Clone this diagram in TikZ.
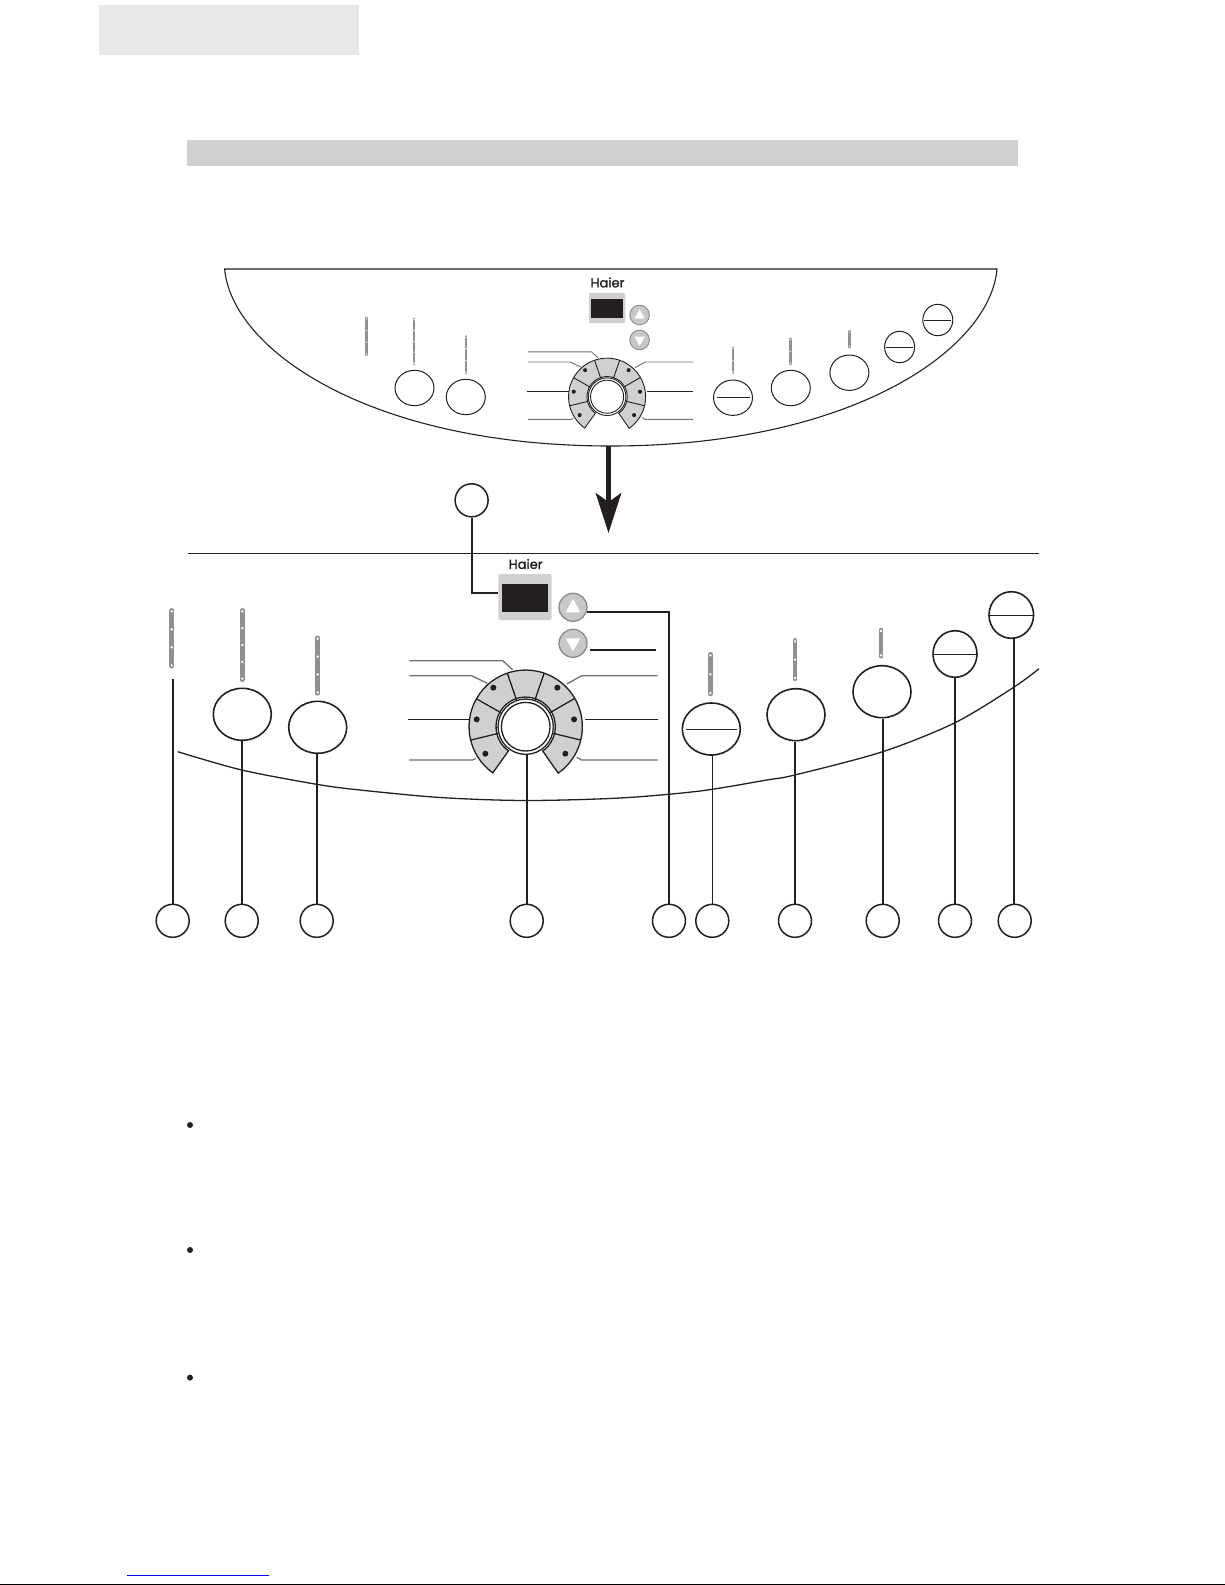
\documentclass[tikz,border=0pt]{standalone}
\usepackage{fontspec}
\newfontfamily\logofont[FakeBold=1.6]{Poppins}
\usetikzlibrary{shapes.geometric}
\definecolor{ink}{HTML}{231F20}
\definecolor{panelgray}{HTML}{D0D0D0}
\definecolor{tabgray}{HTML}{E8E8E8}
\definecolor{leadgray}{HTML}{707070}
\definecolor{bargray}{HTML}{909090}
\definecolor{btngray}{HTML}{C8C8C8}
\definecolor{btnedge}{HTML}{8A8A8A}
\definecolor{linkblue}{HTML}{0000E0}
\tikzset{
  knob/.style={ellipse,draw=ink,fill=white,inner sep=0pt,line width=1.6pt},
  smallknob/.style={ellipse,draw=ink,fill=white,inner sep=0pt,line width=1pt},
  callout/.style={ellipse,draw=ink,fill=white,inner sep=0pt,line width=1.5pt,minimum width=33pt,minimum height=33pt},
  lead/.style={draw=ink,line width=2.2pt},
  logo/.style={font=\logofont\fontsize{13}{13}\selectfont,text=ink,inner sep=0pt},
  screen/.style={rectangle,rounded corners=1.5pt,fill=panelgray,inner sep=0pt},
  arrowbtn/.style={ellipse,draw=btnedge,fill=btngray,inner sep=0pt},
  divider/.style={draw=ink,line width=.8pt},
}
% bar: x, y1, y2, dots, width, dot radius
\newcommand{\lampbar}[6]{%
  \draw[bargray,line width=#5pt,line cap=round] (#1,#2+1) -- (#1,#3-1);
  \pgfmathsetmacro{\stepy}{(#3-#2-4)/(#4-1)}
  \foreach \k in {1,...,#4}{\fill[white] (#1,#2+2+\stepy*\k-\stepy) circle[radius=#6pt];}
}
% dial: cx, cy, x-scale, y-scale, line width, name, right leader end
\newcommand{\dial}[7]{%
  \begin{scope}[shift={(#1,#2)},x=#3pt,y=#4pt,line width=#5pt]
    \draw[ink,fill=panelgray] (234.5:170) arc[start angle=234.5,end angle=-55,radius=170] -- (-55:89) arc[start angle=-55,end angle=234.5,radius=89] -- cycle;
    \foreach \a in {193.7,150.5,109,71,30,-13.6} \draw[ink] (\a:85) -- (\a:170);
    \foreach \p in {(-97,117),(-147,22),(-121,-81),(95,117),(145,22),(119,-81)} \fill[ink] \p circle[radius=9];
    \draw[leadgray] (-349,198) -- (-69,198) -- (-39,171);
    \draw[leadgray] (-349,153) -- (-162,153) -- (-115,130);
    \draw[ink] (-353,22) -- (-169,22);
    \draw[leadgray] (-349,-100) -- (-159,-100) -- (-149,-95);
    \draw[leadgray] (#7,153) -- (168,153) -- (123,128);
    \draw[ink] (#7,22) -- (178,22);
    \draw[leadgray] (#7,-100) -- (168,-100) -- (153,-92);
    \node[ellipse,draw=ink,fill=white,inner sep=0pt,minimum width=2*83*#3pt,minimum height=2*83*#4pt] (#6) at (0,0) {};
    \draw[ink] (0,0) circle[radius=73];
  \end{scope}
}
\newcommand{\upbtn}[5]{% name,x,y,sx,sy
  \node[arrowbtn,minimum width=#4*28pt,minimum height=#5*28pt,line width=#4*1.3pt] (#1) at (#2,#3) {};
  \fill[white] (#2-#4*7.3,#3+#5*5) -- (#2+#4*7.3,#3+#5*5) -- (#2,#3-#5*8.3) -- cycle;
}
\newcommand{\downbtn}[5]{%
  \node[arrowbtn,minimum width=#4*28pt,minimum height=#5*28pt,line width=#4*1.3pt] (#1) at (#2,#3) {};
  \fill[white] (#2-#4*7.3,#3-#5*5) -- (#2+#4*7.3,#3-#5*5) -- (#2,#3+#5*8.3) -- cycle;
}
\begin{document}
\begin{tikzpicture}[x=1pt,y=-1pt]
\useasboundingbox (0,0) rectangle (1225,1585);
% header bars
\fill[tabgray] (99,5) rectangle (359,55);
\fill[panelgray] (187,140) rectangle (1018,166);
% upper panel outline
\draw[ink,line width=1.1pt] (224.6,269) -- (997,269) .. controls (990,350) and (851,446) .. (610.8,446) .. controls (370,446) and (232,350) .. (224.6,269) -- cycle;
% upper panel
\node[logo] (logoA) at (607.5,282.5) {Haier};
\node[screen,minimum width=36.6pt,minimum height=30.6pt] (screenA) at (607.1,308) {};
\node[rectangle,fill=ink,inner sep=0pt,minimum width=31.4pt,minimum height=19pt] (blackA) at (607.1,308.8) {};
\upbtn{upA}{639.6}{315}{.7}{.7}
\downbtn{downA}{639.6}{340}{.7}{.7}
\lampbar{366.4}{316.7}{356}{4}{2.4}{.8}
\lampbar{414}{317.7}{365}{5}{2.4}{.8}
\lampbar{465.8}{335.3}{374.3}{4}{2.4}{.8}
\lampbar{732.7}{346.7}{374}{3}{2.4}{.8}
\lampbar{790.3}{337.7}{365}{3}{2.4}{.8}
\lampbar{849.4}{330}{348.3}{2}{2.4}{.8}
\node[smallknob,minimum width=39pt,minimum height=35.4pt] (kA1) at (414.5,388) {};
\node[smallknob,minimum width=39pt,minimum height=35.4pt] (kA2) at (465.8,397) {};
\node[smallknob,minimum width=39pt,minimum height=35.4pt] (kA3) at (733,397.7) {};
\node[smallknob,minimum width=39pt,minimum height=35.4pt] (kA4) at (790.8,388) {};
\node[smallknob,minimum width=39pt,minimum height=35.4pt] (kA5) at (849.4,372.7) {};
\node[smallknob,minimum width=30pt,minimum height=31.4pt] (kA6) at (899.6,347) {};
\node[smallknob,minimum width=30pt,minimum height=31.4pt] (kA7) at (937.8,320) {};
\draw[divider] ([xshift=3.5pt]kA3.west) -- ([xshift=-3.5pt]kA3.east);
\draw[divider] ([xshift=2pt]kA6.west) -- ([xshift=-2pt]kA6.east);
\draw[divider] ([xshift=2pt]kA7.west) -- ([xshift=-2pt]kA7.east);
\dial{607.1}{396.7}{.2267}{.2267}{.9}{dialA}{379}
% big arrow
\coordinate (arrowtop) at (608.5,446);
\coordinate (arrowtip) at (608.5,533);
\draw[ink,line width=4.6pt] (arrowtop) -- (608.5,505);
\fill[ink] (arrowtip) -- (595.5,492.7) -- (608.5,502) -- (621.5,492.7) -- cycle;
% lower panel outline
\coordinate (ruleL) at (188,553.3);
\coordinate (ruleR) at (1039,553.3);
\draw[ink,line width=1.2pt] (ruleL) -- (ruleR);
\draw[ink,line width=1.3pt] plot[smooth] coordinates {(177.7,751.7) (241.7,770) (316.7,784.3) (360,790) (440,797.5) (525,800.5) (620,798) (700,791) (766.7,780) (794.7,775) (882.7,751.7) (955,722.7) (1013.7,687.3) (1039,668.7)};
% lower panel
\node[logo] (logoB) at (525.7,564) {Haier};
\node[screen,minimum width=53.4pt,minimum height=46pt] (screenB) at (525,597) {};
\node[rectangle,fill=ink,inner sep=0pt,minimum width=46pt,minimum height=28pt] (blackB) at (525,598) {};
\upbtn{upB}{573}{607.3}{1}{1}
\downbtn{downB}{573}{643.3}{1}{1}
\lampbar{171.7}{609.3}{667.3}{4}{4.6}{1.3}
\lampbar{242.3}{609.3}{680.7}{5}{4.6}{1.3}
\lampbar{317.7}{636.7}{694.3}{4}{4.6}{1.3}
\lampbar{710.3}{653.3}{695}{3}{4.6}{1.3}
\lampbar{795}{639.3}{680}{3}{4.6}{1.3}
\lampbar{881}{629}{657.3}{2}{4.6}{1.3}
\node[knob,minimum width=58pt,minimum height=52pt] (kB1) at (242.3,714.3) {};
\node[knob,minimum width=58pt,minimum height=52pt] (kB2) at (317.7,727.3) {};
\node[knob,minimum width=58pt,minimum height=52pt] (kB3) at (711.3,729) {};
\node[knob,minimum width=58pt,minimum height=52pt] (kB4) at (796,714.7) {};
\node[knob,minimum width=58pt,minimum height=52pt] (kB5) at (882,691.7) {};
\node[knob,minimum width=44pt,minimum height=46.6pt] (kB6) at (955,654) {};
\node[knob,minimum width=44.6pt,minimum height=46.6pt] (kB7) at (1011.3,615) {};
\draw[divider] ([xshift=4pt]kB3.west) -- ([xshift=-4pt]kB3.east);
\draw[divider] (kB6.west) -- (kB6.east);
\draw[divider] (kB7.west) -- (kB7.east);
\dial{525.7}{726.7}{.3333}{.3333}{1.3}{dialB}{396}
% callouts
\node[callout] (cTop) at (471.6,500.3) {};
\node[callout] (c1) at (172.7,920.8) {};
\node[callout] (c2) at (241.7,920.8) {};
\node[callout] (c3) at (316.7,920.8) {};
\node[callout] (c4) at (526.7,920.8) {};
\node[callout] (c5) at (669,920.8) {};
\node[callout] (c6) at (712.3,920.8) {};
\node[callout] (c7) at (795,920.8) {};
\node[callout] (c8) at (882.7,920.8) {};
\node[callout] (c9) at (955,920.8) {};
\node[callout] (c10) at (1014.7,920.8) {};
% connectors
\coordinate (free1) at (172.7,679.3);
\coordinate (freeDown) at (656,649.7);
\draw[lead] (c1.north) -- (free1);
\draw[lead] (c2.north) -- (c2.north |- kB1.south);
\draw[lead] (c3.north) -- (c3.north |- kB2.south);
\draw[lead] (c4.north) -- (c4.north |- dialB.south);
\draw[lead] (c5.north) |- ([xshift=-1pt,yshift=-5pt]upB.east);
\draw[ink,line width=1pt] (c6.north) -- (c6.north |- kB3.south);
\draw[lead] (c7.north) -- (c7.north |- kB4.south);
\draw[lead] (c8.north) -- (c8.north |- kB5.south);
\draw[lead] (c9.north) -- (kB6.south);
\draw[lead] ([xshift=-1pt]c10.north) -- ([xshift=-1pt]c10.north |- kB7.south);
\draw[lead] (cTop.south) |- ([yshift=3.7pt]screenB.west);
\draw[lead] ([xshift=2pt]downB.east |- freeDown) -- (freeDown);
% bullets
\fill[ink] (190,1125) circle[radius=3];
\fill[ink] (190,1250) circle[radius=3];
\fill[ink] (190,1377.6) circle[radius=3];
% foot
\draw[linkblue,line width=1pt] (127,1575.3) -- (268.7,1575.3);
\draw[black,line width=1.4pt] (0,1584.3) -- (1225,1584.3);
\end{tikzpicture}
\end{document}
